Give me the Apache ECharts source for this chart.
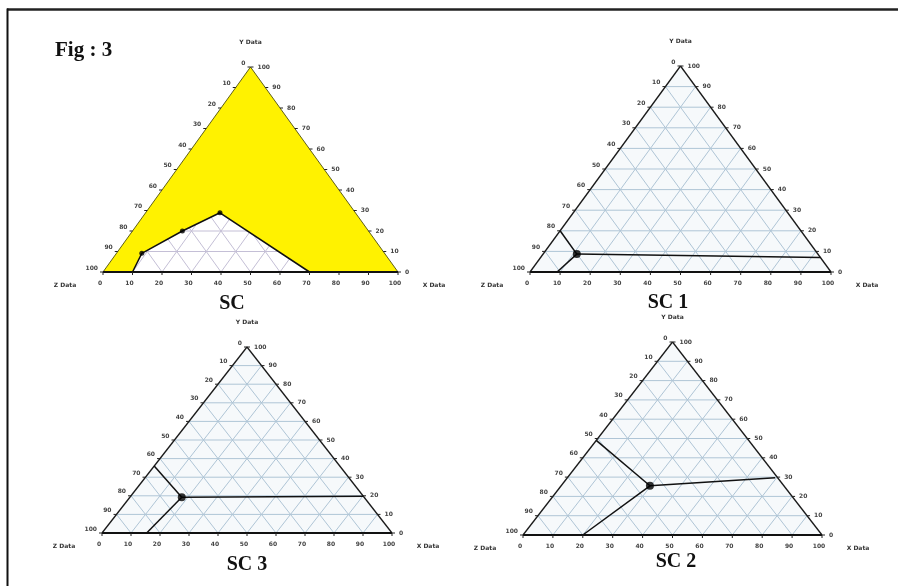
<!DOCTYPE html>
<html>
<head>
<meta charset="utf-8">
<style>
html, body { margin: 0; padding: 0; background: #fff; }
#chart { width: 898px; height: 586px; }
</style>
<script src="https://cdn.jsdelivr.net/npm/echarts@6.0.0/dist/echarts.min.js"></script>
</head>
<body>
<div id="chart"></div>
<script>
// tick labels on every side of a triangle
const tickValues = [0, 10, 20, 30, 40, 50, 60, 70, 80, 90, 100];
// inner grid lines
const gridSteps = [10, 20, 30, 40, 50, 60, 70, 80, 90];

const panelTitles = ['SC', 'SC 1', 'SC 3', 'SC 2'];

// SC: corners of the white (uncovered) region, X and Y in %
const scRegionX = [10, 8.6, 16.9, 25.2, 70];
const scRegionY = [0, 9.1, 20, 28.9, 0];
// SC: measured points
const scPointX = [8.6, 16.9, 25.2];
const scPointY = [9.1, 20, 28.9];

// SC 1 / SC 3 / SC 2: centre point and the three line ends, [X, Y] in %
const sc1Point = [11.2, 8.7];
const sc1Ends = [[0, 20], [93, 7], [9, 0]];
const sc3Point = [17.9, 19.2];
const sc3Ends = [[0, 36], [80.3, 19.7], [15.4, 0]];
const sc2Point = [29.7, 25.5];
const sc2Ends = [[0, 49], [69.5, 29.7], [20, 0]];

// layout of the four triangles (pixels)
const boxes = [
  { left: 103, top: 67, width: 295, height: 205 },
  { left: 530, top: 66, width: 301, height: 206 },
  { left: 102, top: 347, width: 290, height: 186 },
  { left: 523, top: 342, width: 299, height: 193 }
];
const titlePos = [[232, 304], [668, 303], [247, 565], [676, 562]];

// ternary (X, Y) -> cartesian axis values (Z = 100 - X - Y)
const tern = (x, y) => [x + y / 2, y];

const tickFont = 'bold 6px "DejaVu Sans", sans-serif';

function gridSegments() {
  const segs = [];
  gridSteps.forEach(k => {
    segs.push([...tern(0, k), ...tern(100 - k, k)]);       // Y const
    segs.push([...tern(k, 0), ...tern(k, 100 - k)]);       // X const
    segs.push([...tern(100 - k, 0), ...tern(0, 100 - k)]); // Z const
  });
  return segs;
}

function segSeries(gi, segs, stroke, width, z) {
  return {
    type: 'custom', xAxisIndex: gi, yAxisIndex: gi, z: z, silent: true,
    data: segs,
    renderItem: (params, api) => {
      const a = api.coord([api.value(0), api.value(1)]);
      const b = api.coord([api.value(2), api.value(3)]);
      return {
        type: 'line',
        shape: { x1: a[0], y1: a[1], x2: b[0], y2: b[1] },
        style: { stroke: stroke, lineWidth: width }
      };
    }
  };
}

function polygonSeries(gi, pts, fill, z) {
  return {
    type: 'custom', xAxisIndex: gi, yAxisIndex: gi, z: z, silent: true,
    data: [pts[0]],
    renderItem: (params, api) => ({
      type: 'polygon',
      shape: { points: pts.map(p => api.coord(p)) },
      style: { fill: fill, stroke: null }
    })
  };
}

// side: 'bottom' (X), 'left' (Z), 'right' (Y)
function tickSeries(gi, side) {
  const pts = tickValues.map(t => {
    if (side === 'bottom') return tern(t, 0);
    if (side === 'left') return tern(0, 100 - t);
    return tern(100 - t, t);
  });
  return {
    type: 'custom', xAxisIndex: gi, yAxisIndex: gi, z: 7, silent: true,
    data: pts,
    renderItem: (params, api) => {
      const p = api.coord([api.value(0), api.value(1)]);
      const label = String(tickValues[params.dataIndex]);
      let tick, text;
      if (side === 'bottom') {
        tick = { x1: p[0], y1: p[1], x2: p[0], y2: p[1] + 3 };
        text = { x: p[0] - 3, y: p[1] + 11, align: 'center' };
      } else if (side === 'left') {
        tick = { x1: p[0], y1: p[1], x2: p[0] - 3, y2: p[1] };
        text = { x: p[0] - 5, y: p[1] - 4, align: 'right' };
      } else {
        tick = { x1: p[0], y1: p[1], x2: p[0] + 3, y2: p[1] };
        text = { x: p[0] + 7, y: p[1], align: 'left' };
      }
      return {
        type: 'group',
        children: [
          { type: 'line', shape: tick, style: { stroke: '#222', lineWidth: 1 } },
          {
            type: 'text', x: text.x, y: text.y,
            style: { text: label, font: tickFont, fill: '#444', align: text.align, verticalAlign: 'middle' }
          }
        ]
      };
    }
  };
}

function lineSeries(gi, pts, width) {
  return {
    type: 'line', xAxisIndex: gi, yAxisIndex: gi, z: 5, silent: true,
    data: pts, showSymbol: false, animation: false,
    lineStyle: { color: '#111', width: width }
  };
}

function dotSeries(gi, pts, size) {
  return {
    type: 'scatter', xAxisIndex: gi, yAxisIndex: gi, z: 6, silent: true,
    data: pts, symbolSize: size, itemStyle: { color: '#000' }
  };
}

const corners = [tern(0, 0), tern(100, 0), tern(0, 100)];
const series = [];

boxes.forEach((b, gi) => {
  series.push(polygonSeries(gi, corners, gi === 0 ? '#ffffff' : '#f6f9fb', 1));
  series.push(segSeries(gi, gridSegments(), gi === 0 ? '#c4bfd6' : '#afc5d6', 1, 2));
  ['bottom', 'left', 'right'].forEach(s => series.push(tickSeries(gi, s)));
});

// SC: yellow cover with the white window cut out of the bottom
const scRegion = scRegionX.map((x, i) => tern(x, scRegionY[i]));
series.push(polygonSeries(0, [tern(0, 0)].concat(scRegion, [tern(100, 0), tern(0, 100)]), '#fff200', 3));
series.push(segSeries(0, [[...tern(0, 0), ...tern(0, 100)], [...tern(100, 0), ...tern(0, 100)]], '#5f5f18', 1, 4));
series.push(segSeries(0, [[...tern(0, 0), ...tern(100, 0)]], '#111', 2, 4));
series.push(lineSeries(0, scRegion, 1.5));
series.push(dotSeries(0, scPointX.map((x, i) => tern(x, scPointY[i])), 5));

[[sc1Point, sc1Ends], [sc3Point, sc3Ends], [sc2Point, sc2Ends]].forEach((d, k) => {
  const gi = k + 1;
  series.push(segSeries(gi, [[...tern(0, 0), ...tern(0, 100)], [...tern(100, 0), ...tern(0, 100)]], '#1a1a1a', 1.3, 4));
  series.push(segSeries(gi, [[...tern(0, 0), ...tern(100, 0)]], '#111', 2, 4));
  const c = tern(d[0][0], d[0][1]);
  d[1].forEach(e => series.push(lineSeries(gi, [tern(e[0], e[1]), c], 1.5)));
  series.push(dotSeries(gi, [c], 8));
});

const smallFont = 'bold 6px "DejaVu Sans", sans-serif';
const titleFont = 'bold 20px "Liberation Serif", serif';
const graphics = [
  { type: 'line', shape: { x1: 7, y1: 9.5, x2: 898, y2: 9.5 }, style: { stroke: '#222', lineWidth: 2.5 } },
  { type: 'line', shape: { x1: 7.5, y1: 8.5, x2: 7.5, y2: 586 }, style: { stroke: '#111', lineWidth: 2 } },
  { type: 'text', x: 55, y: 51, style: { text: 'Fig : 3', font: 'bold 21px "Liberation Serif", serif', fill: '#111', verticalAlign: 'middle' } }
];
boxes.forEach((b, i) => {
  const base = b.top + b.height;
  graphics.push(
    { type: 'text', x: b.left + b.width / 2, y: b.top - 25, style: { text: 'Y Data', font: smallFont, fill: '#333', align: 'center', verticalAlign: 'middle' } },
    { type: 'text', x: b.left - 38, y: base + 13, style: { text: 'Z Data', font: smallFont, fill: '#333', align: 'center', verticalAlign: 'middle' } },
    { type: 'text', x: b.left + b.width + 36, y: base + 13, style: { text: 'X Data', font: smallFont, fill: '#333', align: 'center', verticalAlign: 'middle' } },
    { type: 'text', x: titlePos[i][0], y: titlePos[i][1], style: { text: panelTitles[i], font: titleFont, fill: '#111', align: 'center', verticalAlign: 'middle' } }
  );
});

const chart = echarts.init(document.getElementById('chart'));
chart.setOption({
  animation: false,
  backgroundColor: '#fff',
  grid: boxes.map(b => Object.assign({ containLabel: false }, b)),
  xAxis: boxes.map((b, i) => ({ type: 'value', gridIndex: i, min: 0, max: 100, show: false })),
  yAxis: boxes.map((b, i) => ({ type: 'value', gridIndex: i, min: 0, max: 100, show: false })),
  graphic: graphics,
  series: series
});
</script>
</body>
</html>
